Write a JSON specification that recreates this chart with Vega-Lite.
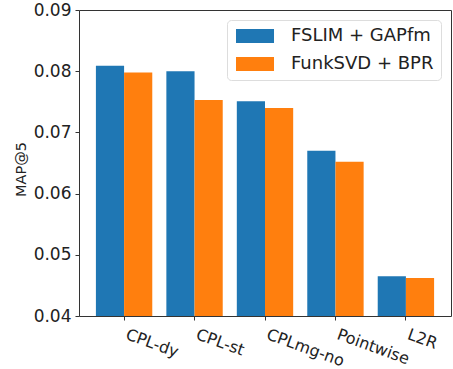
{
  "$schema": "https://vega.github.io/schema/vega-lite/v6.json",
  "width": 372,
  "height": 306,
  "autosize": {"type": "none"},
  "padding": {"left": 79, "top": 10, "right": 2, "bottom": 53},
  "background": "white",
  "config": {
    "font": "DejaVu Sans",
    "view": {"stroke": "#333", "strokeWidth": 1}
  },
  "data": {
    "values": [
      {"model": "CPL-dy", "method": "FSLIM + GAPfm", "map": 0.0809},
      {"model": "CPL-dy", "method": "FunkSVD + BPR", "map": 0.0798},
      {"model": "CPL-st", "method": "FSLIM + GAPfm", "map": 0.0800},
      {"model": "CPL-st", "method": "FunkSVD + BPR", "map": 0.0753},
      {"model": "CPLmg-no", "method": "FSLIM + GAPfm", "map": 0.0751},
      {"model": "CPLmg-no", "method": "FunkSVD + BPR", "map": 0.0740},
      {"model": "Pointwise", "method": "FSLIM + GAPfm", "map": 0.0670},
      {"model": "Pointwise", "method": "FunkSVD + BPR", "map": 0.0652},
      {"model": "L2R", "method": "FSLIM + GAPfm", "map": 0.0465},
      {"model": "L2R", "method": "FunkSVD + BPR", "map": 0.0462}
    ]
  },
  "mark": {"type": "bar", "clip": true},
  "encoding": {
    "x": {
      "field": "model",
      "type": "nominal",
      "sort": ["CPL-dy", "CPL-st", "CPLmg-no", "Pointwise", "L2R"],
      "scale": {"paddingInner": 0.2, "paddingOuter": 0.24},
      "axis": {
        "title": null,
        "labelAngle": 20,
        "labelAlign": "left",
        "labelBaseline": "top",
        "labelFontSize": 16,
        "labelColor": "#222",
        "labelPadding": 6,
        "labelOffset": 5,
        "tickSize": 4,
        "tickColor": "#333",
        "domain": false,
        "grid": false
      }
    },
    "xOffset": {
      "field": "method",
      "type": "nominal",
      "sort": ["FSLIM + GAPfm", "FunkSVD + BPR"],
      "scale": {"paddingInner": 0, "paddingOuter": 0}
    },
    "y": {
      "field": "map",
      "type": "quantitative",
      "scale": {"domain": [0.04, 0.09], "zero": false, "nice": false},
      "axis": {
        "title": "MAP@5",
        "titleFontSize": 14.5,
        "titleFontWeight": "normal",
        "titleColor": "#222",
        "titleAngle": 270,
        "titleX": -58,
        "titleY": 159,
        "titleAlign": "center",
        "titleBaseline": "middle",
        "values": [0.04, 0.05, 0.06, 0.07, 0.08, 0.09],
        "format": ".2f",
        "labelFontSize": 17,
        "labelColor": "#222",
        "labelPadding": 4,
        "tickSize": 4,
        "tickColor": "#333",
        "domain": false,
        "grid": false
      }
    },
    "color": {
      "field": "method",
      "type": "nominal",
      "sort": ["FSLIM + GAPfm", "FunkSVD + BPR"],
      "scale": {"range": ["#1f77b4", "#ff7f0e"]},
      "legend": {
        "title": null,
        "orient": "none",
        "legendX": 148,
        "legendY": 10,
        "padding": 7,
        "strokeColor": "#ddd",
        "fillColor": "white",
        "cornerRadius": 4,
        "symbolType": "M-1,-1L4.43,-1L4.43,1L-1,1Z",
        "symbolSize": 196,
        "symbolStrokeWidth": 0,
        "symbolOpacity": 1,
        "labelFontSize": 18,
        "labelColor": "#222",
        "labelOffset": 39,
        "rowPadding": 10
      }
    }
  }
}
